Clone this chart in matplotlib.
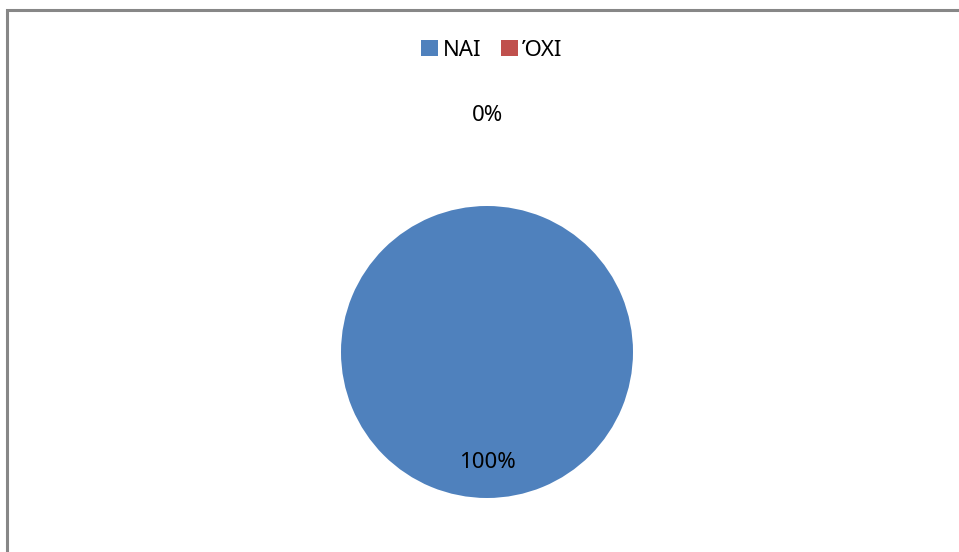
import matplotlib.pyplot as plt
from matplotlib.patches import Rectangle

plt.rcParams['font.family'] = ['Noto Sans', 'DejaVu Sans']

# data
labels = ['ΝΑΙ', 'ΌΧΙ']
values = [100, 0]
colors = ['#4F81BD', '#C0504D']

fig = plt.figure(figsize=(9.59, 5.52), dpi=100)

# chart border (right and bottom edges are cut off in the original)
fig.patches.append(Rectangle((7 / 959, -0.1), 1.1, (552 - 10) / 552 + 0.1,
                             transform=fig.transFigure, fill=False,
                             edgecolor='#878787', linewidth=2.2))

ax = fig.add_axes([341 / 959, (552 - 498) / 552, 292 / 959, 292 / 552])
wedges, texts, autotexts = ax.pie(values, colors=colors, startangle=90,
                                  counterclock=False, autopct='%1.0f%%',
                                  pctdistance=0.76,
                                  textprops={'fontsize': 16, 'color': 'black'})
# the empty slice's label sits above the pie
for v, t in zip(values, autotexts):
    if v == 0:
        x, y = t.get_position()
        t.set_position((x * 1.62 / 0.76, y * 1.62 / 0.76))
ax.set_xlim(-1, 1)
ax.set_ylim(-1, 1)
ax.set_aspect('equal')

fig.legend(wedges, labels, loc='center', bbox_to_anchor=(492 / 959, 1 - 50 / 552),
           ncol=2, frameon=False, fontsize=16, handlelength=0.75,
           handleheight=0.75, handletextpad=0.2, columnspacing=0.9)

fig.savefig('out.png', dpi=100)
